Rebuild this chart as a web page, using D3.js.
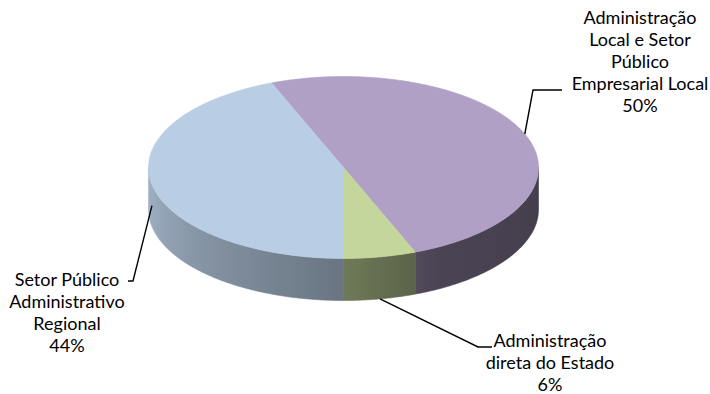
<!DOCTYPE html>
<html>
<head>
<meta charset="utf-8">
<script src="https://cdn.jsdelivr.net/npm/d3@7"></script>
<style>
  html, body { margin: 0; padding: 0; background: #ffffff; }
  svg { display: block; }
  text { font-family: Lato, "Open Sans", sans-serif; font-size: 18px; fill: #000; }
</style>
</head>
<body>
<svg id="chart" width="710" height="394"></svg>
<script>
// ---- data ----
const categories = [
  "Administração Local e Setor Público Empresarial Local",
  "Administração direta do Estado",
  "Setor Público Administrativo Regional"
];
const values = [50, 6, 44];
const percentLabels = ["50%", "6%", "44%"];
const labelLines = [
  ["Administração", "Local e Setor", "Público", "Empresarial Local"],
  ["Administração", "direta do Estado"],
  ["Setor Público", "Administrativo", "Regional"]
];
const topColors = ["#B1A0C6", "#C3D69B", "#B9CDE4"];

// ---- layout ----
const W = 710, H = 394;
const cx = 343.5, cy = 167.5, rx = 195, ry = 91, depth = 42;
const lineH = 22;
const labelLayout = [
  { x: 640, y: 24, elbow: [533, 90], end: [562, 90], level: "top" },
  { x: 550, y: 347, elbow: [478, 347], end: [492, 347], level: "bottom" },
  { x: 67, y: 286, elbow: [133, 281], end: [128, 281], level: "mid" }
];

const svg = d3.select("#chart");
const total = d3.sum(values);
// the second slice ends exactly at the bottom of the pie
const start = Math.PI - (values[0] + values[1]) / total * 2 * Math.PI;
const pie = d3.pie().sort(null).value(d => d)
  .startAngle(start).endAngle(start + 2 * Math.PI);
const arcs = pie(values);

const px = a => cx + rx * Math.sin(a);
const py = a => cy - ry * Math.cos(a);

const shade = d3.scaleLinear()
  .domain([90, 150, 170, 180, 220, 270])
  .range([0.38, 0.42, 0.52, 0.57, 0.70, 0.88])
  .clamp(true);
function shadeColor(base, a) {
  let deg = a * 180 / Math.PI;
  deg = ((deg % 360) + 360) % 360;
  const c = d3.rgb(base), f = shade(deg);
  return d3.rgb(c.r * f, c.g * f, c.b * f).formatHex();
}

function sample(a0, a1, n) {
  const pts = [];
  const steps = Math.max(2, Math.ceil(Math.abs(a1 - a0) / (Math.PI / 180) * n));
  for (let i = 0; i <= steps; i++) pts.push(a0 + (a1 - a0) * i / steps);
  return pts;
}

const defs = svg.append("defs");

// ---- side walls (front half only) ----
arcs.forEach((d, i) => {
  const a0 = d.startAngle, a1 = d.endAngle;
  const ranges = [];
  for (let k = -1; k <= 1; k++) {
    const lo = Math.PI / 2 + k * 2 * Math.PI, hi = 3 * Math.PI / 2 + k * 2 * Math.PI;
    const s = Math.max(a0, lo), e = Math.min(a1, hi);
    if (e > s) ranges.push([s, e]);
  }
  ranges.forEach((r, j) => {
    const id = "g" + i + "_" + j;
    const grad = defs.append("linearGradient").attr("id", id)
      .attr("gradientUnits", "userSpaceOnUse")
      .attr("x1", cx - rx).attr("x2", cx + rx).attr("y1", 0).attr("y2", 0);
    const angs = sample(3 * Math.PI / 2, Math.PI / 2, 0.5);
    angs.forEach(a => {
      grad.append("stop")
        .attr("offset", ((px(a) - (cx - rx)) / (2 * rx)).toFixed(4))
        .attr("stop-color", shadeColor(topColors[i], a));
    });
    const pts = sample(r[0], r[1], 2);
    const topPts = pts.map(a => [px(a), py(a)]);
    const botPts = pts.slice().reverse().map(a => [px(a), py(a) + depth]);
    const path = d3.line()(topPts.concat(botPts)) + "Z";
    svg.append("path").attr("d", path)
      .attr("fill", `url(#${id})`)
      .attr("stroke", `url(#${id})`).attr("stroke-width", 0.6);
  });
});

// ---- top faces ----
arcs.forEach((d, i) => {
  const pts = sample(d.startAngle, d.endAngle, 2).map(a => [px(a), py(a)]);
  const path = d3.line()([[cx, cy]].concat(pts)) + "Z";
  svg.append("path").attr("d", path)
    .attr("fill", topColors[i])
    .attr("stroke", topColors[i]).attr("stroke-width", 0.6);
});

// ---- leader lines & labels ----
arcs.forEach((d, i) => {
  const L = labelLayout[i];
  const mid = (d.startAngle + d.endAngle) / 2;
  let ax = px(mid), ay = py(mid);
  if (L.level === "bottom") ay += depth;
  if (L.level === "mid") ay += depth / 2;
  svg.append("path")
    .attr("d", d3.line()([[ax, ay], L.elbow, L.end]))
    .attr("fill", "none").attr("stroke", "#000").attr("stroke-width", 1.4);
  const t = svg.append("text").attr("text-anchor", "middle");
  labelLines[i].concat([percentLabels[i]]).forEach((s, k) => {
    t.append("tspan").attr("x", L.x).attr("y", L.y + k * lineH).text(s);
  });
});
</script>
</body>
</html>
